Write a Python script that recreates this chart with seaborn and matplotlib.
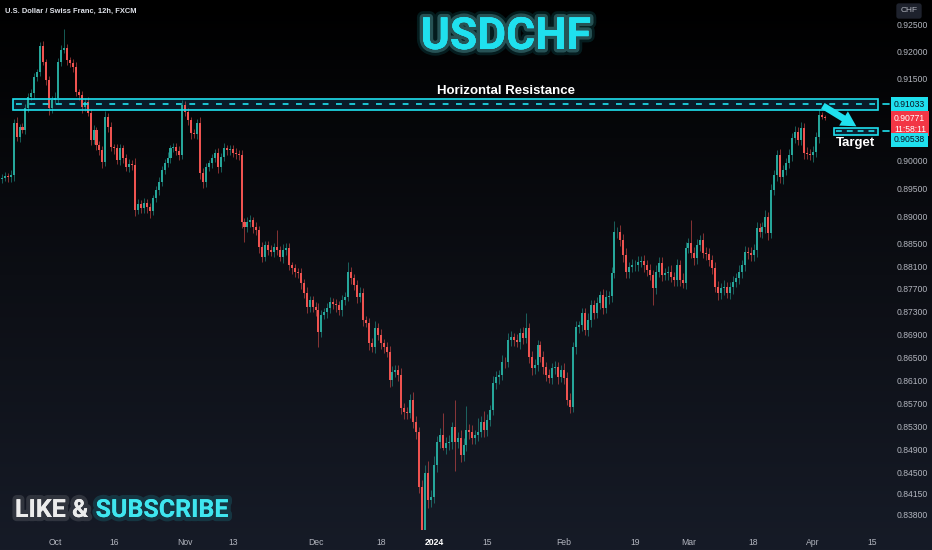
import numpy as np
import pandas as pd
import matplotlib
matplotlib.use("Agg")
import matplotlib.pyplot as plt
import seaborn as sns
from matplotlib import patheffects as pe
from matplotlib.patches import Rectangle
from matplotlib.colors import LinearSegmentedColormap
import matplotlib.ticker as mticker

sns.set_theme(style="dark")
plt.rcParams["font.family"] = ["Liberation Sans", "DejaVu Sans"]
BOLDFONT = ["Roboto", "Liberation Sans", "DejaVu Sans"]

# ---------------- data ----------------
first_open = 0.8966
closes = [
    0.8969, 0.8972, 0.8970, 0.8974, 0.9069, 0.9043, 0.9061, 0.9056, 0.9096, 0.9117,
    0.9124, 0.9153, 0.9163, 0.9211, 0.9181, 0.9148, 0.9096, 0.9111, 0.9115, 0.9181,
    0.9203, 0.9207, 0.9185, 0.9179, 0.9172, 0.9126, 0.9120, 0.9098, 0.9107, 0.9087,
    0.9038, 0.9056, 0.9029, 0.9019, 0.8998, 0.9080, 0.9061, 0.9025, 0.9023, 0.9001,
    0.9023, 0.9005, 0.8989, 0.8994, 0.8992, 0.8911, 0.8922, 0.8914, 0.8923, 0.8916,
    0.8909, 0.8932, 0.8947, 0.8961, 0.8983, 0.8996, 0.9005, 0.9023, 0.9025, 0.9018,
    0.9010, 0.9102, 0.9089, 0.9074, 0.9050, 0.9049, 0.9069, 0.8978, 0.8961, 0.8989,
    0.8996, 0.9005, 0.9014, 0.8988, 0.9007, 0.9023, 0.9019, 0.9021, 0.9014, 0.9012,
    0.9010, 0.8889, 0.8880, 0.8889, 0.8893, 0.8880, 0.8875, 0.8844, 0.8827, 0.8848,
    0.8839, 0.8836, 0.8844, 0.8839, 0.8827, 0.8839, 0.8843, 0.8812, 0.8807, 0.8800,
    0.8798, 0.8780, 0.8763, 0.8738, 0.8750, 0.8738, 0.8733, 0.8694, 0.8724, 0.8729,
    0.8736, 0.8747, 0.8743, 0.8741, 0.8733, 0.8750, 0.8756, 0.8800, 0.8789, 0.8777,
    0.8756, 0.8763, 0.8715, 0.8710, 0.8675, 0.8668, 0.8701, 0.8689, 0.8675, 0.8668,
    0.8659, 0.8610, 0.8624, 0.8628, 0.8619, 0.8562, 0.8555, 0.8553, 0.8576, 0.8537,
    0.8520, 0.8426, 0.8353, 0.8450, 0.8404, 0.8409, 0.8464, 0.8503, 0.8515, 0.8493,
    0.8501, 0.8503, 0.8529, 0.8503, 0.8510, 0.8481, 0.8498, 0.8524, 0.8520, 0.8510,
    0.8515, 0.8520, 0.8537, 0.8524, 0.8541, 0.8558, 0.8605, 0.8615, 0.8619, 0.8642,
    0.8641, 0.8680, 0.8685, 0.8680, 0.8676, 0.8692, 0.8683, 0.8701, 0.8650, 0.8631,
    0.8636, 0.8671, 0.8650, 0.8633, 0.8619, 0.8614, 0.8631, 0.8632, 0.8615, 0.8628,
    0.8614, 0.8576, 0.8563, 0.8668, 0.8703, 0.8706, 0.8727, 0.8697, 0.8715, 0.8741,
    0.8727, 0.8745, 0.8759, 0.8736, 0.8756, 0.8757, 0.8798, 0.8871, 0.8872, 0.8857,
    0.8830, 0.8800, 0.8809, 0.8812, 0.8813, 0.8818, 0.8819, 0.8812, 0.8803, 0.8795,
    0.8771, 0.8800, 0.8816, 0.8795, 0.8798, 0.8800, 0.8791, 0.8786, 0.8812, 0.8786,
    0.8780, 0.8843, 0.8852, 0.8834, 0.8825, 0.8848, 0.8857, 0.8834, 0.8832, 0.8821,
    0.8807, 0.8773, 0.8763, 0.8771, 0.8773, 0.8763, 0.8773, 0.8782, 0.8789, 0.8800,
    0.8812, 0.8835, 0.8833, 0.8830, 0.8839, 0.8878, 0.8871, 0.8880, 0.8898, 0.8870,
    0.8947, 0.8974, 0.9010, 0.8970, 0.8983, 0.8996, 0.9010, 0.9041, 0.9052, 0.9038,
    0.9060, 0.9014, 0.9013, 0.9010, 0.9016, 0.9043, 0.9083, 0.9080, 0.90771,
]
wick_up_pips = [
    6, 8, 5, 9, 7, 10, 6, 8, 7, 6,
    8, 7, 6, 7, 9, 6, 8, 7, 10, 8,
    9, 35, 8, 6, 7, 9, 6, 8, 7, 10,
    8, 9, 6, 7, 8, 10, 7, 9, 6, 8,
    7, 6, 8, 9, 7, 12, 8, 6, 9, 7,
    8, 6, 7, 9, 8, 7, 10, 6, 8, 7,
    9, 9, 8, 7, 6, 8, 7, 10, 8, 7,
    6, 8, 7, 9, 7, 10, 6, 8, 7, 9,
    8, 10, 7, 9, 8, 6, 9, 7, 10, 8,
    7, 9, 8, 31, 7, 10, 8, 9, 6, 8,
    7, 9, 8, 10, 7, 8, 9, 12, 8, 7,
    9, 8, 7, 10, 8, 9, 8, 18, 9, 7,
    8, 10, 9, 7, 8, 9, 12, 8, 10, 7,
    9, 10, 11, 8, 9, 12, 9, 8, 10, 14,
    10, 8, 12, 14, 20, 12, 15, 10, 12, 38,
    10, 12, 9, 47, 11, 14, 12, 41, 10, 12,
    9, 24, 11, 20, 10, 9, 12, 10, 8, 11,
    9, 12, 10, 8, 11, 9, 10, 26, 9, 11,
    10, 9, 8, 11, 9, 10, 8, 12, 10, 9,
    11, 10, 12, 9, 11, 8, 10, 9, 12, 10,
    9, 11, 8, 10, 12, 9, 10, 20, 9, 11,
    10, 12, 9, 11, 8, 10, 9, 12, 10, 11,
    9, 12, 10, 11, 9, 10, 12, 9, 11, 10,
    12, 10, 9, 41, 11, 10, 9, 12, 10, 11,
    9, 10, 11, 9, 12, 10, 9, 11, 10, 12,
    10, 11, 9, 12, 10, 11, 9, 10, 12, 9,
    11, 10, 9, 12, 10, 9, 11, 10, 12, 9,
    10, 9, 11, 8, 10, 9, 12, 6, 3,
]
wick_dn_pips = [
    7, 6, 9, 8, 10, 7, 9, 6, 8, 7,
    6, 9, 7, 8, 6, 10, 12, 8, 7, 9,
    7, 6, 9, 8, 10, 7, 9, 11, 8, 6,
    9, 7, 10, 8, 12, 7, 9, 8, 10, 7,
    8, 9, 7, 10, 8, 11, 7, 9, 8, 10,
    12, 8, 7, 9, 6, 8, 7, 9, 8, 7,
    9, 7, 8, 9, 10, 8, 9, 12, 10, 8,
    7, 9, 8, 10, 8, 7, 9, 8, 7, 9,
    8, 10, 27, 9, 8, 10, 9, 11, 10, 8,
    9, 8, 10, 9, 8, 11, 9, 8, 10, 9,
    8, 10, 9, 11, 8, 9, 10, 26, 9, 8,
    10, 9, 8, 11, 9, 10, 9, 8, 10, 9,
    11, 9, 10, 8, 12, 9, 10, 9, 11, 10,
    9, 12, 10, 9, 11, 10, 12, 11, 9, 10,
    12, 10, 20, 12, 14, 11, 10, 12, 11, 4,
    10, 11, 12, 50, 10, 13, 11, 10, 12, 11,
    10, 11, 9, 12, 10, 11, 9, 10, 11, 9,
    10, 9, 11, 10, 9, 12, 10, 9, 11, 12,
    10, 11, 9, 12, 10, 9, 11, 10, 12, 9,
    11, 10, 10, 9, 12, 10, 11, 9, 10, 12,
    10, 9, 11, 10, 9, 12, 10, 9, 11, 10,
    12, 10, 11, 9, 10, 11, 9, 12, 10, 9,
    30, 10, 9, 11, 10, 12, 9, 10, 11, 10,
    9, 11, 10, 9, 12, 10, 11, 9, 10, 11,
    10, 9, 12, 10, 11, 9, 10, 12, 9, 10,
    11, 10, 9, 11, 10, 12, 9, 10, 11, 13,
    10, 9, 11, 10, 12, 9, 10, 11, 9, 10,
    9, 11, 10, 9, 12, 10, 11, 4, 3,
]

first_session = "2023-09-19"
last_session = "2024-05-31"
holidays = ["2023-12-25", "2024-01-01"]
tick_dates = ["2023-10-01", "2023-10-16", "2023-11-01", "2023-11-13", "2023-12-01",
              "2023-12-18", "2024-01-01", "2024-01-15", "2024-02-01", "2024-02-19",
              "2024-03-01", "2024-03-18", "2024-04-01", "2024-04-15"]
tick_labels = ["Oct", "16", "Nov", "13", "Dec", "18", "2024", "15", "Feb", "19",
               "Mar", "18", "Apr", "15"]
price_ticks = [0.925, 0.920, 0.915, 0.900, 0.895, 0.890, 0.885, 0.881, 0.877, 0.873,
               0.869, 0.865, 0.861, 0.857, 0.853, 0.849, 0.845, 0.8415, 0.838]
resistance_level = 0.91033
resistance_band = (0.90926, 0.91128)
target_level = 0.90538
target_band = (0.90468, 0.90596)
last_price = 0.90771
countdown = "11:58:11"

# ---------------- derived ----------------
closes = np.array(closes)
opens = np.concatenate([[first_open], closes[:-1]])
highs = np.maximum(opens, closes) + np.array(wick_up_pips) / 1e4
lows = np.minimum(opens, closes) - np.array(wick_dn_pips) / 1e4
n = len(closes)
xs = np.arange(n)

days = pd.bdate_range(first_session, last_session)
days = days[~days.isin(pd.to_datetime(holidays))]
bar_times = pd.DatetimeIndex(sorted(d + pd.Timedelta(hours=h) for d in days for h in (0, 12)))
tick_pos = bar_times.searchsorted(pd.to_datetime(tick_dates))

GREEN = "#26a69a"
RED = "#ef5350"
CYAN = "#1fe0ee"
up = closes >= opens
colors = np.where(up, GREEN, RED)

# ---------------- figure ----------------
W, H = 932, 550
fig = plt.figure(figsize=(W / 100, H / 100), dpi=100)
bg = fig.add_axes([0, 0, 1, 1], zorder=-10)
grad = np.linspace(0, 1, 256).reshape(-1, 1)
bg.imshow(grad, aspect="auto", extent=[0, 1, 0, 1], origin="upper",
          cmap=LinearSegmentedColormap.from_list("bg", ["#000000", "#0c0e14", "#161b27"]))
bg.set_axis_off()

ax = fig.add_axes([0, 20 / H, 880 / W, 530 / H])
ax.set_facecolor("none")
ax.set_yscale("log")
ax.set_ylim(0.83533, 0.92968)
ax.set_xlim(-0.6, 296.7)
for s in ax.spines.values():
    s.set_visible(False)
ax.grid(False)

# candles
ax.vlines(xs, lows, highs, colors=colors, lw=0.7, alpha=0.55, zorder=3)
body_lo = np.minimum(opens, closes)
body_h = np.maximum(np.abs(closes - opens), 0.00008)
ax.bar(xs, body_h, bottom=body_lo, width=0.68, color=colors, linewidth=0, zorder=3)

# resistance band
x0 = 3.8
ax.add_patch(Rectangle((x0, resistance_band[0]), 296.0 - x0, resistance_band[1] - resistance_band[0],
                       fc="#0b2030", ec="none", alpha=0.85, zorder=2))
ax.add_patch(Rectangle((x0, resistance_band[0]), 296.0 - x0, resistance_band[1] - resistance_band[0],
                       fc="none", ec=CYAN, lw=1.2, zorder=4))
ax.hlines(resistance_level, x0 + 1, 295, colors=CYAN, lw=1.2, linestyles=(0, (3.5, 4.5)), zorder=4)
ax.text(170.4, 0.91275, "Horizontal Resistance", ha="center", va="center",
        fontsize=9.5, color="white", fontweight="bold", zorder=5)

# target band
tx0, tx1 = 281.2, 296.0
ax.add_patch(Rectangle((tx0, target_band[0]), tx1 - tx0, target_band[1] - target_band[0],
                       fc="#0b2030", ec=CYAN, lw=1.2, zorder=4))
ax.hlines(target_level, tx0 + 0.8, tx1 - 0.5, colors=CYAN, lw=1.2, linestyles=(0, (3.5, 3.0)), zorder=5)
ax.text(288.5, 0.90330, "Target", ha="center", va="center", fontsize=9.5, color="white",
        fontweight="bold", zorder=5)

# arrow
ax.annotate("", xy=(289.5, 0.9060), xytext=(276.6, 0.9103),
            arrowprops=dict(arrowstyle="simple,head_length=0.9,head_width=1.0,tail_width=0.4",
                            color=CYAN, lw=0), zorder=6)

# y axis
ax.yaxis.tick_right()
ax.yaxis.set_major_locator(mticker.FixedLocator(price_ticks))
ax.yaxis.set_major_formatter(mticker.FixedFormatter([f"{p:.5f}" for p in price_ticks]))
ax.yaxis.set_minor_locator(mticker.NullLocator())
ax.tick_params(axis="y", length=0, pad=12, labelsize=6.2, labelcolor="#b2b5be")
for lab in ax.get_yticklabels():
    lab.set_horizontalalignment("left")

# x axis
ax.set_xticks(tick_pos)
ax.set_xticklabels(tick_labels)
ax.xaxis.set_minor_locator(mticker.NullLocator())
ax.tick_params(axis="x", length=0, pad=6, labelsize=6.2, labelcolor="#b2b5be")
for lab in ax.get_xticklabels():
    if lab.get_text() == "2024":
        lab.set_fontweight("bold")
        lab.set_color("white")

# price labels on the scale
yt = ax.get_yaxis_transform()
lx = 894 / 880
ax.plot([883 / 880, 889 / 880], [resistance_level] * 2, color=CYAN, lw=1.2, transform=yt, clip_on=False)
ax.text(lx, resistance_level, f"{resistance_level:.5f}", transform=yt, ha="left", va="center",
        fontsize=6.2, color="#0b1220", clip_on=False,
        bbox=dict(boxstyle="square,pad=0.3", fc=CYAN, ec="none"))
ax.text(lx, 0.90675, f"{last_price:.5f}\n{countdown}", transform=yt, ha="left", va="center",
        fontsize=6.2, color="white", clip_on=False, linespacing=1.25,
        bbox=dict(boxstyle="square,pad=0.3", fc="#f23645", ec="none"))
ax.plot([883 / 880, 889 / 880], [0.90541] * 2, color=CYAN, lw=1.2, transform=yt, clip_on=False)
ax.text(lx, 0.90380, f"{target_level:.5f}", transform=yt, ha="left", va="center",
        fontsize=6.2, color="#0b1220", clip_on=False,
        bbox=dict(boxstyle="square,pad=0.3", fc=CYAN, ec="none"))

# header texts
fig.text(5 / W, 1 - 11 / H, "U.S. Dollar / Swiss Franc, 12h, FXCM", ha="left", va="center",
         fontsize=5.4, color="#e0e3eb", fontweight="bold")
fig.text(909 / W, 1 - 11 / H, "CHF", ha="center", va="center", fontsize=6, color="#b2b5be",
         bbox=dict(boxstyle="round,pad=0.5,rounding_size=0.3", fc="#1e222d", ec="none"))

glow = [pe.withStroke(linewidth=9, foreground=CYAN, alpha=0.12),
        pe.withStroke(linewidth=5, foreground="#8ff6fb", alpha=0.25), pe.Normal()]
fig.text(506 / W, 1 - 37 / H, "USDCHF", ha="center", va="center", fontsize=32,
         fontweight="bold", color=CYAN, family=BOLDFONT, path_effects=glow)

glow_w = [pe.withStroke(linewidth=6, foreground="#ffffff", alpha=0.12), pe.Normal()]
glow_c = [pe.withStroke(linewidth=6, foreground=CYAN, alpha=0.15), pe.Normal()]
t1 = fig.text(15 / W, 1 - 510 / H, "LIKE &", ha="left", va="center", fontsize=18, fontweight="bold",
              color="#ececec", family=BOLDFONT, path_effects=glow_w)
fig.canvas.draw()
ext = t1.get_window_extent(renderer=fig.canvas.get_renderer())
fig.text((ext.x1 + 7) / W, 1 - 510 / H, "SUBSCRIBE", ha="left", va="center", fontsize=18,
         fontweight="bold", color="#3fe6ef", family=BOLDFONT, path_effects=glow_c)

fig.savefig("out.png", dpi=100, facecolor="#000000")
